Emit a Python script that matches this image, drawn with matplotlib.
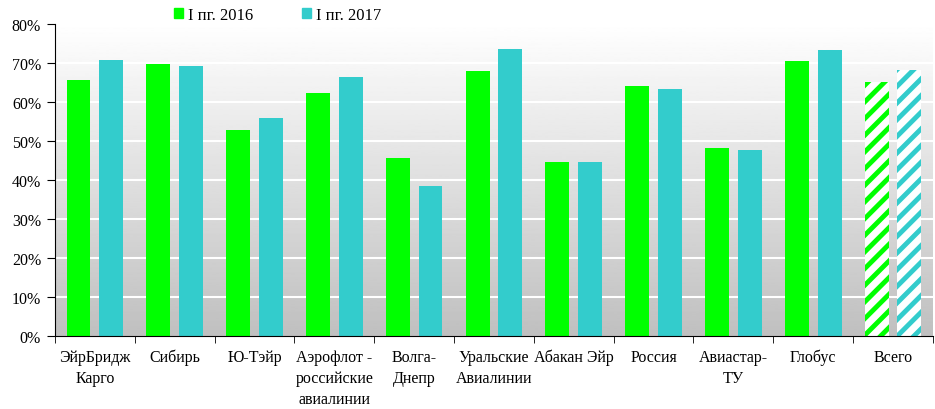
import numpy as np
import matplotlib.pyplot as plt
from matplotlib.ticker import FuncFormatter

plt.rcParams['font.family'] = ['Liberation Serif', 'DejaVu Serif']
plt.rcParams['hatch.linewidth'] = 3.5

# Load factor by airline, first half-year
airlines = ['ЭйрБридж\nКарго', 'Сибирь', 'Ю-Тэйр', 'Аэрофлот -\nроссийские\nавиалинии',
            'Волга-\nДнепр', 'Уральские\nАвиалинии', 'Абакан Эйр', 'Россия',
            'Авиастар-\nТУ', 'Глобус', 'Всего']
h1_2016 = [65.6, 69.7, 52.8, 62.4, 45.6, 67.9, 44.6, 64.1, 48.2, 70.5, 65.1]
h1_2017 = [70.8, 69.2, 55.9, 66.4, 38.5, 73.6, 44.6, 63.3, 47.7, 73.3, 68.2]
labels = ['I пг. 2016', 'I пг. 2017']

GREEN = '#00FF00'
CYAN = '#33CCCC'


def do_plot():
    fig = plt.figure(figsize=(9.35, 4.10), dpi=100)
    ax = fig.add_axes([0.0588, 0.178, 0.939, 0.761])
    n = len(airlines)
    x = np.arange(n)

    # gradient background: white on top to grey at the bottom
    grad = np.linspace(1.0, 0.75, 256).reshape(-1, 1)
    ax.imshow(grad, cmap='gray', vmin=0, vmax=1, aspect='auto',
              extent=[-0.5, n - 0.5, 0, 80], origin='upper', zorder=0)
    ax.set_xlim(-0.5, n - 0.5)
    ax.set_ylim(0, 80)

    for y in range(10, 80, 10):
        ax.axhline(y, color='white', lw=1.5, zorder=1)

    w = 0.30
    off = 0.205
    for i in range(n):
        last = i == n - 1
        for vals, col, sgn in ((h1_2016, GREEN, -1), (h1_2017, CYAN, 1)):
            if last:
                ax.bar(x[i] + sgn * off, vals[i], w, facecolor='white',
                       edgecolor=col, hatch='//', lw=0, zorder=2)
            else:
                ax.bar(x[i] + sgn * off, vals[i], w, color=col, lw=0, zorder=2)

    ax.set_yticks(range(0, 81, 10))
    ax.yaxis.set_major_formatter(FuncFormatter(lambda v, p: '%d%%' % v))
    ax.set_xticks(x)
    ax.set_xticklabels(airlines, linespacing=1.45)
    ax.set_xticks(np.arange(-0.5, n, 1.0), minor=True)
    ax.tick_params(axis='x', which='major', length=0, pad=9, labelsize=11.5)
    ax.tick_params(axis='x', which='minor', length=5, direction='out')
    ax.tick_params(axis='y', length=6, direction='out', labelsize=11.5, pad=4)
    for s in ('top', 'right'):
        ax.spines[s].set_visible(False)
    ax.spines['left'].set_zorder(3)
    ax.spines['bottom'].set_zorder(3)

    h1 = plt.Rectangle((0, 0), 1, 1, color=GREEN)
    h2 = plt.Rectangle((0, 0), 1, 1, color=CYAN)
    fig.legend([h1, h2], labels, loc='center', bbox_to_anchor=(0.297, 0.962),
               ncol=2, frameon=False, fontsize=12, handlelength=0.55,
               handleheight=0.55, handletextpad=0.3, columnspacing=2.9)

    fig.savefig('out.png', dpi=100)


if __name__ == '__main__':
    do_plot()
